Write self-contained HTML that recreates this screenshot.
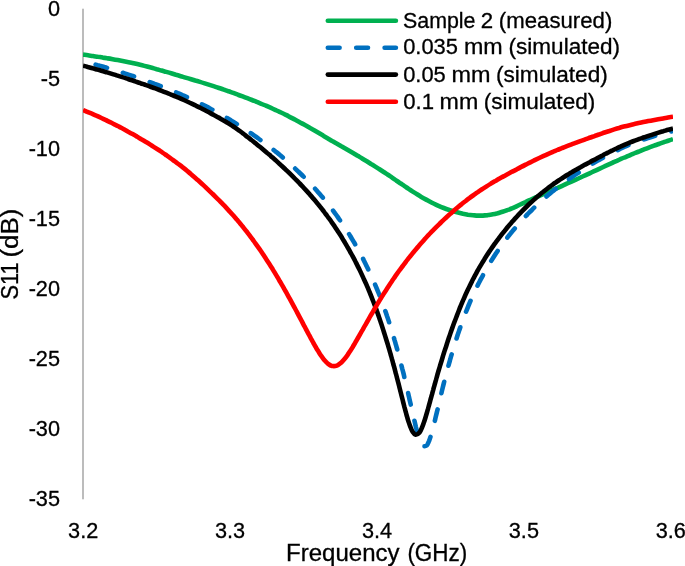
<!DOCTYPE html>
<html lang="en"><head><meta charset="utf-8"><title>S11 vs Frequency</title>
<style>html,body{margin:0;padding:0;background:#fff}svg{display:block}</style></head>
<body>
<svg width="685" height="566" viewBox="0 0 685 566">
<rect width="685" height="566" fill="#fff"/>
<rect x="82" y="8.7" width="2" height="490.6" fill="#bcbcbc"/>
<defs><clipPath id="cp"><rect x="83" y="0" width="590" height="520"/></clipPath></defs>
<g clip-path="url(#cp)" fill="none" stroke-width="4.6" stroke-linejoin="round" stroke-linecap="butt">
<path d="M83.0,54.6 C83.8,54.7 86.3,55.1 88.0,55.3 C89.6,55.5 91.3,55.8 92.9,56.0 C94.6,56.3 96.2,56.5 97.9,56.8 C99.5,57.0 101.2,57.3 102.8,57.6 C104.5,57.8 106.1,58.1 107.8,58.4 C109.4,58.6 111.1,58.9 112.7,59.2 C114.4,59.5 116.0,59.8 117.7,60.1 C119.3,60.4 120.9,60.7 122.6,61.0 C124.2,61.3 125.9,61.6 127.5,61.9 C129.1,62.2 130.8,62.6 132.4,62.9 C134.0,63.3 135.7,63.7 137.3,64.1 C138.9,64.5 140.5,64.9 142.2,65.3 C143.8,65.7 145.4,66.1 147.0,66.5 C148.6,67.0 150.2,67.4 151.8,67.8 C153.5,68.3 155.1,68.7 156.7,69.2 C158.3,69.6 159.9,70.1 161.5,70.5 C163.1,71.0 164.7,71.4 166.3,71.9 C167.9,72.4 169.5,72.9 171.1,73.3 C172.7,73.8 174.3,74.3 175.9,74.8 C177.5,75.2 179.1,75.7 180.7,76.2 C182.3,76.7 183.9,77.1 185.5,77.6 C187.1,78.1 188.7,78.6 190.3,79.0 C191.9,79.5 193.6,80.0 195.2,80.5 C196.8,80.9 198.4,81.4 200.0,81.9 C201.5,82.4 203.1,82.9 204.7,83.4 C206.3,83.9 207.9,84.4 209.5,84.9 C211.1,85.4 212.7,85.9 214.3,86.4 C215.9,86.9 217.5,87.5 219.0,88.0 C220.6,88.5 222.2,89.1 223.8,89.6 C225.4,90.2 227.0,90.7 228.5,91.3 C230.1,91.8 231.7,92.4 233.3,92.9 C234.8,93.5 236.4,94.1 238.0,94.7 C239.5,95.2 241.1,95.8 242.7,96.4 C244.2,97.0 245.8,97.6 247.3,98.2 C248.9,98.8 250.4,99.4 252.0,100.0 C253.6,100.6 255.1,101.3 256.7,101.9 C258.2,102.5 259.7,103.2 261.3,103.8 C262.8,104.4 264.4,105.1 265.9,105.7 C267.4,106.4 269.0,107.1 270.5,107.7 C272.0,108.4 273.6,109.1 275.1,109.8 C276.6,110.5 278.1,111.1 279.6,111.9 C281.2,112.6 282.7,113.3 284.2,114.0 C285.7,114.8 287.2,115.5 288.6,116.3 C290.1,117.0 291.6,117.8 293.1,118.6 C294.6,119.4 296.0,120.2 297.5,121.0 C299.0,121.8 300.4,122.6 301.9,123.4 C303.4,124.2 304.8,125.0 306.3,125.8 C307.7,126.6 309.2,127.5 310.6,128.3 C312.1,129.1 313.5,129.9 315.0,130.8 C316.4,131.6 317.9,132.5 319.3,133.3 C320.7,134.2 322.2,135.0 323.6,135.9 C325.0,136.7 326.5,137.6 327.9,138.4 C329.4,139.3 330.8,140.2 332.2,141.0 C333.7,141.8 335.1,142.7 336.6,143.5 C338.0,144.3 339.5,145.2 340.9,146.0 C342.4,146.8 343.8,147.7 345.3,148.5 C346.7,149.3 348.2,150.2 349.6,151.0 C351.0,151.8 352.5,152.7 353.9,153.5 C355.4,154.4 356.8,155.3 358.2,156.1 C359.7,157.0 361.1,157.8 362.5,158.7 C363.9,159.6 365.4,160.5 366.8,161.3 C368.2,162.2 369.6,163.1 371.0,164.0 C372.5,164.8 373.9,165.7 375.3,166.6 C376.7,167.5 378.1,168.4 379.5,169.3 C380.9,170.2 382.3,171.1 383.7,172.0 C385.1,172.9 386.5,173.9 387.9,174.8 C389.3,175.7 390.7,176.7 392.1,177.6 C393.4,178.6 394.8,179.5 396.2,180.5 C397.6,181.4 398.9,182.3 400.3,183.3 C401.7,184.2 403.1,185.2 404.5,186.1 C405.9,187.0 407.2,188.0 408.6,188.9 C410.0,189.8 411.4,190.7 412.8,191.6 C414.2,192.5 415.6,193.4 417.1,194.3 C418.5,195.2 419.9,196.1 421.3,196.9 C422.8,197.8 424.2,198.6 425.7,199.4 C427.2,200.2 428.6,201.0 430.1,201.8 C431.6,202.6 433.1,203.3 434.6,204.0 C436.1,204.8 437.6,205.5 439.1,206.1 C440.7,206.8 442.2,207.4 443.8,208.0 C445.3,208.6 446.9,209.2 448.5,209.7 C450.1,210.3 451.7,210.7 453.3,211.2 C454.9,211.7 456.5,212.2 458.1,212.6 C459.7,213.0 461.3,213.4 463.0,213.8 C464.6,214.1 466.2,214.4 467.9,214.7 C469.5,214.9 471.2,215.1 472.9,215.3 C474.5,215.4 476.2,215.6 477.9,215.6 C479.5,215.7 481.2,215.6 482.9,215.6 C484.5,215.5 486.2,215.3 487.9,215.1 C489.5,214.8 491.2,214.6 492.8,214.3 C494.5,214.0 496.1,213.6 497.7,213.2 C499.3,212.7 500.9,212.3 502.5,211.8 C504.1,211.3 505.7,210.7 507.3,210.1 C508.8,209.6 510.4,209.0 511.9,208.3 C513.5,207.7 515.0,207.0 516.5,206.3 C518.0,205.6 519.5,204.9 521.1,204.2 C522.6,203.5 524.1,202.8 525.6,202.1 C527.1,201.3 528.6,200.6 530.1,200.0 C531.7,199.3 533.2,198.6 534.7,197.9 C536.2,197.2 537.8,196.6 539.3,195.9 C540.8,195.3 542.4,194.6 543.9,193.9 C545.4,193.3 547.0,192.6 548.5,191.9 C550.0,191.3 551.6,190.6 553.1,189.9 C554.6,189.2 556.1,188.5 557.7,187.9 C559.2,187.2 560.7,186.5 562.2,185.8 C563.8,185.1 565.3,184.4 566.8,183.7 C568.3,183.1 569.9,182.4 571.4,181.7 C572.9,181.0 574.4,180.3 575.9,179.6 C577.5,178.9 579.0,178.2 580.5,177.5 C582.0,176.8 583.5,176.1 585.1,175.4 C586.6,174.7 588.1,174.0 589.6,173.3 C591.1,172.6 592.6,171.9 594.1,171.2 C595.7,170.5 597.2,169.8 598.7,169.1 C600.2,168.4 601.7,167.7 603.2,167.0 C604.7,166.3 606.3,165.6 607.8,164.9 C609.3,164.2 610.8,163.5 612.3,162.8 C613.9,162.1 615.4,161.4 616.9,160.8 C618.4,160.1 620.0,159.4 621.5,158.7 C623.0,158.1 624.6,157.4 626.1,156.8 C627.6,156.1 629.2,155.5 630.7,154.8 C632.3,154.2 633.8,153.5 635.4,152.9 C636.9,152.3 638.5,151.7 640.0,151.1 C641.6,150.4 643.1,149.8 644.7,149.2 C646.3,148.6 647.8,148.0 649.4,147.4 C650.9,146.9 652.5,146.3 654.1,145.7 C655.6,145.1 657.2,144.6 658.8,144.0 C660.4,143.4 661.9,142.9 663.5,142.3 C665.1,141.8 666.7,141.2 668.2,140.7 C669.8,140.2 672.2,139.4 673.0,139.1" stroke="#00b050"/>
<path d="M83.0,61.4 C83.8,61.6 86.2,62.2 87.9,62.6 C89.5,63.0 91.1,63.5 92.7,63.9 C94.3,64.3 95.9,64.7 97.5,65.2 C99.2,65.6 100.8,66.1 102.4,66.5 C104.0,67.0 105.6,67.4 107.2,67.9 C108.8,68.4 110.4,68.9 112.0,69.3 C113.6,69.8 115.2,70.3 116.8,70.8 C118.4,71.3 119.9,71.8 121.5,72.3 C123.1,72.8 124.7,73.4 126.3,73.9 C127.9,74.4 129.5,74.9 131.0,75.5 C132.6,76.0 134.2,76.5 135.8,77.1 C137.4,77.6 138.9,78.2 140.5,78.7 C142.1,79.3 143.7,79.8 145.2,80.4 C146.8,81.0 148.4,81.5 149.9,82.1 C151.5,82.7 153.1,83.3 154.6,83.9 C156.2,84.4 157.7,85.0 159.3,85.6 C160.9,86.2 162.4,86.8 164.0,87.5 C165.5,88.1 167.1,88.7 168.6,89.3 C170.2,89.9 171.7,90.6 173.2,91.2 C174.8,91.9 176.3,92.5 177.9,93.2 C179.4,93.8 180.9,94.5 182.4,95.2 C184.0,95.8 185.5,96.5 187.0,97.2 C188.5,97.9 190.0,98.6 191.6,99.3 C193.1,100.0 194.6,100.7 196.1,101.5 C197.6,102.2 199.1,102.9 200.6,103.7 C202.1,104.4 203.6,105.2 205.0,105.9 C206.5,106.7 208.0,107.5 209.5,108.2 C211.0,109.0 212.4,109.8 213.9,110.6 C215.4,111.4 216.8,112.2 218.3,113.0 C219.7,113.8 221.2,114.7 222.6,115.5 C224.1,116.3 225.5,117.2 227.0,118.0 C228.4,118.9 229.8,119.7 231.3,120.6 C232.7,121.4 234.1,122.3 235.5,123.2 C236.9,124.1 238.3,125.0 239.8,125.9 C241.2,126.8 242.6,127.7 244.0,128.6 C245.4,129.5 246.7,130.4 248.1,131.4 C249.5,132.3 250.9,133.2 252.3,134.2 C253.6,135.1 255.0,136.1 256.4,137.0 C257.7,138.0 259.1,139.0 260.4,140.0 C261.8,140.9 263.1,141.9 264.5,142.9 C265.8,143.9 267.1,144.9 268.5,145.9 C269.8,147.0 271.1,148.0 272.4,149.0 C273.7,150.0 275.0,151.1 276.3,152.1 C277.6,153.2 278.9,154.3 280.2,155.3 C281.5,156.4 282.8,157.5 284.0,158.6 C285.3,159.6 286.5,160.7 287.8,161.8 C289.0,162.9 290.3,164.1 291.5,165.2 C292.8,166.3 294.0,167.4 295.2,168.6 C296.4,169.7 297.6,170.9 298.8,172.0 C300.0,173.2 301.2,174.3 302.4,175.5 C303.6,176.7 304.8,177.9 305.9,179.1 C307.1,180.3 308.3,181.5 309.4,182.7 C310.6,183.9 311.7,185.1 312.8,186.3 C314.0,187.6 315.1,188.8 316.2,190.0 C317.3,191.3 318.4,192.5 319.5,193.8 C320.6,195.1 321.7,196.3 322.8,197.6 C323.8,198.9 324.9,200.2 325.9,201.5 C327.0,202.8 328.0,204.1 329.1,205.4 C330.1,206.7 331.1,208.0 332.1,209.4 C333.1,210.7 334.1,212.0 335.1,213.4 C336.1,214.7 337.1,216.1 338.0,217.4 C339.0,218.8 339.9,220.2 340.9,221.5 C341.8,222.9 342.8,224.3 343.7,225.7 C344.6,227.1 345.5,228.5 346.4,229.9 C347.3,231.3 348.2,232.7 349.1,234.1 C350.0,235.5 350.8,237.0 351.7,238.4 C352.6,239.8 353.4,241.3 354.3,242.7 C355.1,244.1 355.9,245.6 356.7,247.0 C357.5,248.5 358.4,250.0 359.2,251.4 C359.9,252.9 360.7,254.4 361.5,255.8 C362.3,257.3 363.1,258.8 363.8,260.3 C364.6,261.8 365.3,263.3 366.0,264.8 C366.8,266.3 367.5,267.8 368.2,269.3 C368.9,270.8 369.6,272.3 370.3,273.8 C371.0,275.3 371.7,276.9 372.4,278.4 C373.1,279.9 373.8,281.4 374.4,283.0 C375.1,284.5 375.7,286.0 376.4,287.6 C377.0,289.1 377.6,290.7 378.3,292.2 C378.9,293.8 379.5,295.3 380.1,296.9 C380.7,298.4 381.3,300.0 381.9,301.5 C382.5,303.1 383.0,304.7 383.6,306.2 C384.2,307.8 384.7,309.4 385.3,311.0 C385.9,312.5 386.4,314.1 386.9,315.7 C387.5,317.3 388.0,318.8 388.5,320.4 C389.0,322.0 389.6,323.6 390.1,325.2 C390.6,326.8 391.1,328.4 391.6,330.0 C392.1,331.6 392.5,333.2 393.0,334.8 C393.5,336.4 394.0,338.0 394.4,339.6 C394.9,341.2 395.4,342.8 395.8,344.4 C396.3,346.0 396.7,347.6 397.2,349.2 C397.6,350.8 398.0,352.4 398.5,354.0 C398.9,355.6 399.3,357.3 399.8,358.9 C400.2,360.5 400.6,362.1 401.0,363.7 C401.4,365.3 401.8,366.9 402.2,368.6 C402.7,370.2 403.1,371.8 403.5,373.4 C403.9,375.0 404.2,376.7 404.6,378.3 C405.0,379.9 405.4,381.5 405.8,383.2 C406.2,384.8 406.6,386.4 406.9,388.0 C407.3,389.7 407.7,391.3 408.1,392.9 C408.4,394.5 408.8,396.2 409.2,397.8 C409.5,399.4 409.9,401.0 410.3,402.7 C410.7,404.3 411.0,405.9 411.4,407.6 C411.8,409.2 412.1,410.8 412.5,412.4 C412.9,414.1 413.2,415.7 413.6,417.3 C414.0,418.9 414.4,420.6 414.8,422.2 C415.1,423.8 415.5,425.4 415.9,427.1 C416.4,428.7 416.8,430.3 417.2,431.9 C417.7,433.5 418.1,435.1 418.6,436.7 C419.1,438.3 419.6,439.9 420.2,441.4 C420.9,443.0 421.5,445.1 422.6,445.8 C423.7,446.5 425.6,446.3 426.7,445.5 C427.7,444.7 428.3,442.6 429.0,441.1 C429.6,439.6 430.1,438.0 430.6,436.4 C431.1,434.8 431.6,433.2 432.0,431.6 C432.5,430.0 432.9,428.3 433.3,426.7 C433.7,425.1 434.2,423.5 434.6,421.9 C435.0,420.3 435.3,418.6 435.7,417.0 C436.1,415.4 436.5,413.8 436.9,412.1 C437.3,410.5 437.7,408.9 438.1,407.3 C438.4,405.6 438.8,404.0 439.2,402.4 C439.6,400.8 440.0,399.1 440.4,397.5 C440.8,395.9 441.1,394.3 441.5,392.7 C441.9,391.0 442.3,389.4 442.7,387.8 C443.1,386.2 443.5,384.6 443.9,382.9 C444.3,381.3 444.8,379.7 445.2,378.1 C445.6,376.5 446.0,374.9 446.4,373.2 C446.8,371.6 447.3,370.0 447.7,368.4 C448.1,366.8 448.6,365.2 449.0,363.6 C449.5,362.0 449.9,360.4 450.4,358.7 C450.8,357.1 451.3,355.5 451.8,353.9 C452.2,352.3 452.7,350.7 453.2,349.1 C453.7,347.5 454.2,345.9 454.7,344.4 C455.2,342.8 455.7,341.2 456.2,339.6 C456.7,338.0 457.2,336.4 457.7,334.8 C458.2,333.2 458.8,331.7 459.3,330.1 C459.9,328.5 460.4,326.9 461.0,325.3 C461.5,323.8 462.1,322.2 462.7,320.6 C463.2,319.1 463.8,317.5 464.4,316.0 C465.0,314.4 465.6,312.8 466.2,311.3 C466.9,309.7 467.5,308.2 468.1,306.6 C468.7,305.1 469.4,303.6 470.0,302.0 C470.7,300.5 471.4,299.0 472.0,297.4 C472.7,295.9 473.4,294.4 474.1,292.9 C474.8,291.4 475.5,289.8 476.2,288.3 C477.0,286.8 477.7,285.3 478.4,283.8 C479.2,282.4 479.9,280.9 480.7,279.4 C481.5,277.9 482.3,276.4 483.1,275.0 C483.9,273.5 484.7,272.0 485.5,270.6 C486.3,269.1 487.1,267.7 488.0,266.2 C488.8,264.8 489.7,263.4 490.6,262.0 C491.4,260.5 492.3,259.1 493.2,257.7 C494.1,256.3 495.0,254.9 495.9,253.5 C496.9,252.1 497.8,250.7 498.7,249.4 C499.7,248.0 500.7,246.6 501.6,245.3 C502.6,243.9 503.6,242.6 504.6,241.2 C505.6,239.9 506.6,238.6 507.6,237.2 C508.6,235.9 509.7,234.6 510.7,233.3 C511.8,232.0 512.8,230.7 513.9,229.4 C515.0,228.2 516.0,226.9 517.1,225.6 C518.2,224.4 519.3,223.1 520.4,221.9 C521.6,220.6 522.7,219.4 523.8,218.2 C525.0,217.0 526.1,215.7 527.3,214.5 C528.4,213.3 529.6,212.2 530.8,211.0 C532.0,209.8 533.1,208.6 534.3,207.5 C535.5,206.3 536.8,205.2 538.0,204.0 C539.2,202.9 540.4,201.8 541.7,200.7 C542.9,199.6 544.2,198.5 545.5,197.4 C546.7,196.3 548.0,195.2 549.3,194.1 C550.6,193.1 551.9,192.0 553.2,191.0 C554.5,189.9 555.8,188.9 557.1,187.9 C558.4,186.9 559.7,185.8 561.1,184.8 C562.4,183.8 563.8,182.9 565.1,181.9 C566.5,180.9 567.8,179.9 569.2,179.0 C570.5,178.0 571.9,177.1 573.3,176.1 C574.7,175.2 576.1,174.2 577.4,173.3 C578.8,172.4 580.2,171.5 581.6,170.6 C583.0,169.7 584.4,168.8 585.9,167.9 C587.3,167.0 588.7,166.1 590.1,165.2 C591.5,164.4 593.0,163.5 594.4,162.6 C595.8,161.8 597.3,160.9 598.7,160.1 C600.2,159.3 601.6,158.5 603.1,157.6 C604.5,156.8 606.0,156.0 607.5,155.2 C608.9,154.5 610.4,153.7 611.9,152.9 C613.4,152.2 614.9,151.4 616.4,150.7 C617.9,150.0 619.4,149.2 620.9,148.5 C622.4,147.8 623.9,147.2 625.5,146.5 C627.0,145.8 628.5,145.2 630.1,144.5 C631.6,143.9 633.2,143.3 634.7,142.7 C636.3,142.1 637.9,141.5 639.4,141.0 C641.0,140.4 642.6,139.8 644.1,139.3 C645.7,138.8 647.3,138.2 648.9,137.7 C650.5,137.2 652.1,136.7 653.7,136.2 C655.3,135.8 656.9,135.3 658.5,134.8 C660.1,134.4 661.7,133.9 663.3,133.5 C664.9,133.0 666.5,132.6 668.1,132.2 C669.8,131.8 672.2,131.2 673.0,131.0" stroke="#0070c0" stroke-dasharray="11.8 16.6" stroke-dashoffset="-13.05" stroke-linecap="round"/>
<path d="M83.0,65.7 C83.8,65.9 86.2,66.5 87.8,67.0 C89.5,67.4 91.1,67.8 92.7,68.3 C94.3,68.7 95.9,69.2 97.5,69.6 C99.1,70.1 100.7,70.5 102.3,71.0 C103.9,71.5 105.5,71.9 107.1,72.4 C108.7,72.9 110.3,73.4 111.9,73.9 C113.5,74.4 115.1,74.8 116.7,75.4 C118.3,75.9 119.9,76.4 121.5,76.9 C123.1,77.4 124.7,77.9 126.2,78.4 C127.8,78.9 129.4,79.5 131.0,80.0 C132.6,80.5 134.2,81.1 135.8,81.6 C137.3,82.1 138.9,82.6 140.5,83.2 C142.1,83.7 143.7,84.3 145.2,84.8 C146.8,85.4 148.4,85.9 150.0,86.5 C151.5,87.1 153.1,87.6 154.7,88.2 C156.2,88.8 157.8,89.4 159.4,90.0 C160.9,90.6 162.5,91.2 164.0,91.8 C165.6,92.4 167.1,93.0 168.7,93.6 C170.2,94.2 171.8,94.9 173.3,95.5 C174.9,96.1 176.4,96.8 177.9,97.4 C179.5,98.1 181.0,98.7 182.5,99.4 C184.1,100.1 185.6,100.8 187.1,101.5 C188.6,102.2 190.1,102.9 191.7,103.6 C193.2,104.3 194.7,105.0 196.2,105.8 C197.7,106.5 199.2,107.2 200.7,108.0 C202.1,108.7 203.6,109.5 205.1,110.3 C206.6,111.1 208.1,111.8 209.5,112.6 C211.0,113.4 212.5,114.2 213.9,115.0 C215.4,115.8 216.9,116.6 218.3,117.4 C219.8,118.2 221.2,119.1 222.7,119.9 C224.1,120.7 225.6,121.6 227.0,122.5 C228.4,123.3 229.8,124.2 231.2,125.1 C232.6,126.0 234.0,127.0 235.4,127.9 C236.8,128.9 238.1,129.8 239.5,130.8 C240.8,131.8 242.1,132.8 243.5,133.8 C244.8,134.8 246.1,135.9 247.4,136.9 C248.8,137.9 250.1,139.0 251.4,140.0 C252.7,141.0 254.0,142.1 255.3,143.1 C256.6,144.2 257.9,145.2 259.2,146.3 C260.5,147.3 261.8,148.4 263.1,149.5 C264.3,150.5 265.6,151.6 266.9,152.7 C268.2,153.7 269.4,154.8 270.7,155.9 C272.0,157.0 273.2,158.1 274.5,159.2 C275.7,160.3 277.0,161.5 278.2,162.6 C279.4,163.7 280.7,164.8 281.9,166.0 C283.1,167.1 284.3,168.2 285.5,169.4 C286.8,170.5 288.0,171.7 289.2,172.9 C290.3,174.0 291.5,175.2 292.7,176.4 C293.9,177.6 295.1,178.7 296.2,179.9 C297.4,181.1 298.6,182.3 299.7,183.5 C300.9,184.7 302.0,186.0 303.2,187.2 C304.3,188.4 305.4,189.6 306.6,190.9 C307.7,192.1 308.8,193.3 309.9,194.6 C311.0,195.8 312.1,197.1 313.2,198.4 C314.3,199.6 315.4,200.9 316.4,202.2 C317.5,203.5 318.5,204.8 319.6,206.1 C320.6,207.4 321.7,208.7 322.7,210.0 C323.7,211.3 324.7,212.7 325.7,214.0 C326.7,215.3 327.7,216.7 328.7,218.0 C329.7,219.4 330.7,220.7 331.6,222.1 C332.6,223.5 333.5,224.8 334.5,226.2 C335.4,227.6 336.3,229.0 337.3,230.4 C338.2,231.8 339.1,233.2 340.0,234.6 C340.9,236.0 341.8,237.4 342.6,238.8 C343.5,240.3 344.4,241.7 345.2,243.1 C346.1,244.6 346.9,246.0 347.7,247.5 C348.6,248.9 349.4,250.4 350.2,251.8 C351.0,253.3 351.8,254.7 352.6,256.2 C353.4,257.7 354.2,259.2 355.0,260.6 C355.7,262.1 356.5,263.6 357.2,265.1 C358.0,266.6 358.7,268.1 359.5,269.6 C360.2,271.1 360.9,272.6 361.6,274.1 C362.3,275.6 363.0,277.1 363.7,278.7 C364.4,280.2 365.1,281.7 365.8,283.2 C366.5,284.8 367.1,286.3 367.8,287.8 C368.4,289.4 369.1,290.9 369.7,292.4 C370.3,294.0 371.0,295.5 371.6,297.1 C372.2,298.6 372.8,300.2 373.4,301.8 C374.0,303.3 374.6,304.9 375.2,306.4 C375.8,308.0 376.4,309.6 376.9,311.1 C377.5,312.7 378.0,314.3 378.6,315.9 C379.1,317.4 379.7,319.0 380.2,320.6 C380.7,322.2 381.3,323.8 381.8,325.4 C382.3,326.9 382.8,328.5 383.3,330.1 C383.8,331.7 384.3,333.3 384.8,334.9 C385.3,336.5 385.8,338.1 386.3,339.7 C386.8,341.3 387.3,342.9 387.8,344.5 C388.2,346.1 388.7,347.7 389.2,349.3 C389.6,350.9 390.1,352.5 390.6,354.1 C391.0,355.7 391.5,357.3 391.9,358.9 C392.4,360.5 392.8,362.1 393.2,363.8 C393.7,365.4 394.1,367.0 394.6,368.6 C395.0,370.2 395.4,371.8 395.8,373.4 C396.3,375.0 396.7,376.7 397.1,378.3 C397.5,379.9 397.9,381.5 398.4,383.1 C398.8,384.7 399.2,386.4 399.6,388.0 C400.0,389.6 400.4,391.2 400.8,392.8 C401.2,394.5 401.6,396.1 402.1,397.7 C402.5,399.3 402.9,400.9 403.3,402.6 C403.7,404.2 404.1,405.8 404.5,407.4 C405.0,409.0 405.4,410.6 405.8,412.2 C406.3,413.9 406.7,415.5 407.2,417.1 C407.6,418.7 408.1,420.3 408.6,421.9 C409.1,423.5 409.7,425.0 410.3,426.6 C410.9,428.1 411.4,429.8 412.3,431.2 C413.2,432.5 414.4,434.6 415.6,434.8 C416.8,435.0 418.5,433.6 419.6,432.4 C420.6,431.3 421.2,429.5 421.8,428.0 C422.5,426.4 423.1,424.9 423.6,423.3 C424.2,421.7 424.7,420.1 425.2,418.5 C425.7,416.9 426.1,415.3 426.6,413.7 C427.1,412.1 427.5,410.5 428.0,408.9 C428.4,407.3 428.9,405.7 429.3,404.1 C429.8,402.5 430.2,400.9 430.6,399.2 C431.1,397.6 431.5,396.0 432.0,394.4 C432.4,392.8 432.8,391.2 433.3,389.6 C433.7,388.0 434.2,386.4 434.6,384.7 C435.1,383.1 435.5,381.5 436.0,379.9 C436.4,378.3 436.9,376.7 437.3,375.1 C437.8,373.5 438.2,371.9 438.7,370.3 C439.2,368.7 439.7,367.1 440.1,365.5 C440.6,363.9 441.1,362.3 441.6,360.7 C442.1,359.1 442.6,357.5 443.0,355.9 C443.5,354.3 444.0,352.7 444.5,351.1 C445.0,349.5 445.6,347.9 446.1,346.4 C446.6,344.8 447.1,343.2 447.6,341.6 C448.2,340.0 448.7,338.4 449.2,336.8 C449.8,335.3 450.3,333.7 450.8,332.1 C451.4,330.5 451.9,329.0 452.5,327.4 C453.1,325.8 453.6,324.2 454.2,322.7 C454.8,321.1 455.4,319.5 456.0,318.0 C456.6,316.4 457.2,314.9 457.8,313.3 C458.4,311.7 459.0,310.2 459.6,308.6 C460.2,307.1 460.9,305.6 461.5,304.0 C462.2,302.5 462.8,300.9 463.5,299.4 C464.2,297.9 464.8,296.3 465.5,294.8 C466.2,293.3 466.9,291.8 467.6,290.3 C468.3,288.8 469.0,287.3 469.8,285.8 C470.5,284.2 471.2,282.8 472.0,281.3 C472.8,279.8 473.5,278.3 474.3,276.8 C475.1,275.3 475.9,273.9 476.7,272.4 C477.5,270.9 478.3,269.5 479.1,268.0 C480.0,266.6 480.8,265.1 481.7,263.7 C482.5,262.3 483.4,260.8 484.3,259.4 C485.1,258.0 486.0,256.6 486.9,255.2 C487.8,253.8 488.8,252.4 489.7,251.0 C490.6,249.6 491.6,248.2 492.5,246.9 C493.5,245.5 494.4,244.1 495.4,242.8 C496.4,241.4 497.4,240.1 498.4,238.8 C499.4,237.4 500.4,236.1 501.4,234.8 C502.5,233.5 503.5,232.2 504.6,230.9 C505.6,229.6 506.7,228.3 507.7,227.0 C508.8,225.7 509.9,224.4 511.0,223.2 C512.1,221.9 513.2,220.7 514.3,219.4 C515.4,218.2 516.6,217.0 517.7,215.7 C518.8,214.5 520.0,213.3 521.1,212.1 C522.3,210.9 523.5,209.7 524.7,208.5 C525.8,207.4 527.0,206.2 528.2,205.0 C529.4,203.9 530.7,202.7 531.9,201.6 C533.1,200.5 534.4,199.3 535.6,198.2 C536.9,197.1 538.1,196.1 539.4,195.0 C540.7,193.9 542.0,192.8 543.3,191.8 C544.6,190.7 545.9,189.7 547.2,188.7 C548.5,187.7 549.9,186.7 551.2,185.7 C552.6,184.7 553.9,183.7 555.3,182.8 C556.7,181.8 558.0,180.9 559.4,180.0 C560.8,179.0 562.2,178.1 563.6,177.2 C565.0,176.3 566.4,175.4 567.9,174.6 C569.3,173.7 570.7,172.8 572.2,172.0 C573.6,171.1 575.0,170.3 576.5,169.5 C577.9,168.6 579.4,167.8 580.9,167.0 C582.3,166.2 583.8,165.4 585.2,164.6 C586.7,163.8 588.2,163.0 589.7,162.2 C591.1,161.4 592.6,160.6 594.1,159.9 C595.6,159.1 597.0,158.3 598.5,157.5 C600.0,156.8 601.5,156.0 603.0,155.2 C604.4,154.4 605.9,153.7 607.4,152.9 C608.9,152.2 610.4,151.4 611.9,150.7 C613.4,149.9 614.9,149.2 616.4,148.5 C617.9,147.7 619.4,147.0 620.9,146.4 C622.4,145.7 624.0,145.0 625.5,144.3 C627.1,143.7 628.6,143.1 630.2,142.4 C631.7,141.8 633.3,141.2 634.8,140.6 C636.4,140.1 638.0,139.5 639.5,138.9 C641.1,138.4 642.7,137.8 644.3,137.3 C645.8,136.7 647.4,136.2 649.0,135.7 C650.6,135.1 652.2,134.6 653.8,134.1 C655.4,133.6 656.9,133.1 658.5,132.6 C660.1,132.1 661.7,131.6 663.3,131.2 C665.0,130.7 666.6,130.3 668.2,129.8 C669.8,129.4 672.2,128.7 673.0,128.5" stroke="#000"/>
<path d="M83.0,110.0 C83.8,110.4 86.1,111.3 87.6,112.0 C89.2,112.6 90.7,113.3 92.3,113.9 C93.8,114.6 95.3,115.3 96.9,115.9 C98.4,116.6 99.9,117.3 101.4,118.0 C102.9,118.7 104.5,119.4 106.0,120.1 C107.5,120.9 109.0,121.6 110.5,122.3 C112.0,123.1 113.5,123.8 115.0,124.6 C116.5,125.3 117.9,126.1 119.4,126.9 C120.9,127.7 122.4,128.4 123.9,129.2 C125.3,130.0 126.8,130.9 128.2,131.7 C129.7,132.5 131.2,133.3 132.6,134.1 C134.1,135.0 135.5,135.8 137.0,136.6 C138.4,137.5 139.9,138.3 141.3,139.2 C142.7,140.0 144.2,140.9 145.6,141.8 C147.0,142.6 148.5,143.5 149.9,144.4 C151.3,145.3 152.7,146.2 154.1,147.1 C155.5,148.0 156.9,148.9 158.3,149.8 C159.7,150.7 161.1,151.7 162.5,152.6 C163.9,153.5 165.3,154.5 166.6,155.4 C168.0,156.4 169.4,157.4 170.7,158.3 C172.1,159.3 173.4,160.3 174.8,161.3 C176.1,162.3 177.5,163.3 178.8,164.3 C180.1,165.3 181.5,166.3 182.8,167.4 C184.1,168.4 185.4,169.4 186.7,170.5 C188.0,171.6 189.3,172.6 190.5,173.7 C191.8,174.8 193.1,175.9 194.3,177.0 C195.6,178.1 196.8,179.2 198.1,180.3 C199.3,181.4 200.6,182.6 201.8,183.7 C203.0,184.8 204.3,186.0 205.5,187.1 C206.7,188.3 207.9,189.4 209.1,190.6 C210.3,191.7 211.5,192.9 212.7,194.0 C213.9,195.2 215.1,196.4 216.3,197.6 C217.5,198.8 218.7,199.9 219.9,201.1 C221.0,202.3 222.2,203.5 223.3,204.7 C224.5,205.9 225.7,207.2 226.8,208.4 C227.9,209.6 229.1,210.8 230.2,212.1 C231.3,213.3 232.4,214.5 233.6,215.8 C234.7,217.1 235.8,218.3 236.8,219.6 C237.9,220.9 239.0,222.1 240.1,223.4 C241.2,224.7 242.2,226.0 243.3,227.3 C244.3,228.6 245.3,229.9 246.4,231.2 C247.4,232.6 248.4,233.9 249.4,235.2 C250.4,236.6 251.4,237.9 252.4,239.2 C253.4,240.6 254.4,241.9 255.4,243.3 C256.4,244.7 257.3,246.0 258.3,247.4 C259.3,248.8 260.2,250.1 261.2,251.5 C262.1,252.9 263.0,254.3 264.0,255.7 C264.9,257.1 265.8,258.5 266.7,259.9 C267.6,261.3 268.5,262.7 269.4,264.1 C270.3,265.5 271.2,266.9 272.1,268.3 C273.0,269.8 273.8,271.2 274.7,272.6 C275.6,274.1 276.4,275.5 277.3,276.9 C278.2,278.4 279.0,279.8 279.8,281.3 C280.7,282.7 281.5,284.1 282.4,285.6 C283.2,287.0 284.0,288.5 284.8,290.0 C285.7,291.4 286.5,292.9 287.3,294.3 C288.1,295.8 288.9,297.3 289.7,298.7 C290.5,300.2 291.3,301.7 292.1,303.1 C292.9,304.6 293.7,306.1 294.5,307.5 C295.3,309.0 296.1,310.5 296.9,312.0 C297.7,313.4 298.4,314.9 299.2,316.4 C300.0,317.9 300.8,319.4 301.6,320.8 C302.3,322.3 303.1,323.8 303.9,325.3 C304.7,326.8 305.5,328.2 306.2,329.7 C307.0,331.2 307.8,332.7 308.6,334.2 C309.4,335.6 310.2,337.1 311.0,338.6 C311.8,340.0 312.6,341.5 313.4,343.0 C314.2,344.4 315.0,345.9 315.9,347.3 C316.7,348.8 317.6,350.2 318.5,351.6 C319.3,353.1 320.2,354.5 321.2,355.8 C322.1,357.2 323.1,358.6 324.2,359.9 C325.3,361.1 326.4,362.5 327.7,363.5 C329.0,364.5 330.4,365.6 332.0,365.9 C333.5,366.3 335.4,366.1 336.9,365.6 C338.4,365.1 339.8,363.9 341.1,362.8 C342.3,361.7 343.4,360.4 344.5,359.1 C345.5,357.9 346.5,356.5 347.5,355.1 C348.4,353.8 349.3,352.3 350.2,350.9 C351.1,349.5 352.0,348.1 352.9,346.7 C353.7,345.2 354.6,343.8 355.4,342.3 C356.3,340.9 357.1,339.4 357.9,338.0 C358.8,336.5 359.6,335.1 360.4,333.6 C361.2,332.2 362.1,330.7 362.9,329.3 C363.7,327.8 364.5,326.4 365.4,324.9 C366.2,323.5 367.0,322.0 367.9,320.5 C368.7,319.1 369.5,317.6 370.3,316.2 C371.2,314.7 372.0,313.3 372.9,311.8 C373.7,310.4 374.5,309.0 375.4,307.5 C376.2,306.1 377.1,304.6 377.9,303.2 C378.8,301.8 379.7,300.3 380.5,298.9 C381.4,297.5 382.3,296.1 383.2,294.6 C384.1,293.2 385.0,291.8 385.9,290.4 C386.8,289.0 387.7,287.6 388.6,286.2 C389.5,284.8 390.4,283.4 391.4,282.0 C392.3,280.6 393.2,279.2 394.2,277.9 C395.1,276.5 396.1,275.1 397.1,273.7 C398.0,272.4 399.0,271.0 400.0,269.7 C401.0,268.3 402.0,267.0 403.0,265.6 C404.0,264.3 405.0,263.0 406.0,261.6 C407.0,260.3 408.1,259.0 409.1,257.7 C410.1,256.4 411.2,255.1 412.2,253.8 C413.3,252.5 414.4,251.2 415.4,249.9 C416.5,248.6 417.6,247.3 418.7,246.1 C419.8,244.8 420.9,243.5 422.0,242.3 C423.1,241.0 424.2,239.8 425.3,238.5 C426.4,237.3 427.6,236.1 428.7,234.8 C429.9,233.6 431.0,232.4 432.2,231.2 C433.3,230.0 434.5,228.8 435.7,227.6 C436.9,226.4 438.1,225.3 439.3,224.1 C440.4,222.9 441.7,221.8 442.9,220.6 C444.1,219.5 445.3,218.3 446.5,217.2 C447.8,216.0 449.0,214.9 450.3,213.8 C451.5,212.7 452.8,211.6 454.0,210.5 C455.3,209.4 456.6,208.3 457.8,207.3 C459.1,206.2 460.4,205.1 461.7,204.1 C463.0,203.0 464.3,202.0 465.7,201.0 C467.0,199.9 468.3,198.9 469.7,197.9 C471.0,196.9 472.4,195.9 473.7,195.0 C475.1,194.0 476.4,193.0 477.8,192.1 C479.2,191.1 480.6,190.2 482.0,189.3 C483.4,188.4 484.8,187.5 486.2,186.6 C487.6,185.7 489.0,184.8 490.5,183.9 C491.9,183.0 493.3,182.2 494.8,181.3 C496.2,180.5 497.7,179.7 499.1,178.8 C500.6,178.0 502.0,177.2 503.5,176.4 C505.0,175.6 506.4,174.8 507.9,174.0 C509.4,173.2 510.9,172.4 512.3,171.6 C513.8,170.8 515.3,170.0 516.8,169.3 C518.2,168.5 519.7,167.7 521.2,166.9 C522.7,166.2 524.2,165.4 525.7,164.6 C527.2,163.9 528.7,163.1 530.2,162.4 C531.6,161.6 533.1,160.9 534.7,160.1 C536.2,159.4 537.7,158.7 539.2,158.0 C540.7,157.3 542.2,156.6 543.7,155.9 C545.3,155.2 546.8,154.5 548.3,153.8 C549.8,153.2 551.4,152.5 552.9,151.8 C554.5,151.2 556.0,150.5 557.6,149.9 C559.1,149.3 560.7,148.7 562.2,148.0 C563.8,147.4 565.3,146.8 566.9,146.2 C568.4,145.6 570.0,145.0 571.6,144.4 C573.1,143.8 574.7,143.3 576.3,142.7 C577.8,142.1 579.4,141.5 581.0,140.9 C582.6,140.4 584.1,139.8 585.7,139.2 C587.3,138.6 588.8,138.1 590.4,137.5 C592.0,136.9 593.6,136.4 595.1,135.8 C596.7,135.3 598.3,134.7 599.9,134.2 C601.5,133.6 603.0,133.1 604.6,132.5 C606.2,132.0 607.8,131.5 609.4,131.0 C611.0,130.4 612.6,129.9 614.2,129.4 C615.8,128.9 617.4,128.4 619.0,128.0 C620.6,127.5 622.2,127.0 623.8,126.6 C625.4,126.2 627.0,125.8 628.7,125.4 C630.3,125.0 631.9,124.6 633.6,124.2 C635.2,123.9 636.8,123.5 638.5,123.1 C640.1,122.8 641.7,122.5 643.4,122.1 C645.0,121.8 646.6,121.5 648.3,121.1 C649.9,120.8 651.6,120.5 653.2,120.2 C654.9,119.9 656.5,119.6 658.2,119.3 C659.8,119.0 661.4,118.7 663.1,118.4 C664.7,118.1 666.4,117.9 668.0,117.6 C669.7,117.3 672.2,116.9 673.0,116.8" stroke="#ff0000"/>
</g>
<g fill="none" stroke-width="4.6" stroke-linecap="round">
<line x1="327.8" y1="20.8" x2="395.9" y2="20.8" stroke="#00b050"/>
<line x1="327.8" y1="47.7" x2="395.9" y2="47.7" stroke="#0070c0" stroke-dasharray="11.8 16.6"/>
<line x1="327.8" y1="74.6" x2="395.9" y2="74.6" stroke="#000"/>
<line x1="327.8" y1="101.7" x2="395.9" y2="101.7" stroke="#ff0000"/>
</g>
<g font-family="Liberation Sans, Arial, sans-serif" font-size="21.4" fill="#000" stroke="#000" stroke-width="0.3">
<text x="402.98" y="27.7" textLength="72.54" lengthAdjust="spacingAndGlyphs">Sample</text>
<text x="480.86" y="27.7" textLength="12.38" lengthAdjust="spacingAndGlyphs">2</text>
<text x="498.89" y="27.7" textLength="113.44" lengthAdjust="spacingAndGlyphs">(measured)</text>
<text x="403.18" y="54.4" textLength="54.80" lengthAdjust="spacingAndGlyphs">0.035</text>
<text x="463.91" y="54.4" textLength="38.78" lengthAdjust="spacingAndGlyphs">mm</text>
<text x="508.57" y="54.4" textLength="111.49" lengthAdjust="spacingAndGlyphs">(simulated)</text>
<text x="403.18" y="81.5" textLength="42.61" lengthAdjust="spacingAndGlyphs">0.05</text>
<text x="451.60" y="81.5" textLength="39.00" lengthAdjust="spacingAndGlyphs">mm</text>
<text x="495.96" y="81.5" textLength="111.80" lengthAdjust="spacingAndGlyphs">(simulated)</text>
<text x="403.16" y="108.5" textLength="30.83" lengthAdjust="spacingAndGlyphs">0.1</text>
<text x="439.61" y="108.5" textLength="38.67" lengthAdjust="spacingAndGlyphs">mm</text>
<text x="483.66" y="108.5" textLength="111.59" lengthAdjust="spacingAndGlyphs">(simulated)</text>
</g>
<g font-family="Liberation Sans, Arial, sans-serif" font-size="21.7" fill="#000" text-anchor="end" stroke="#000" stroke-width="0.3">
<text x="60.0" y="15.5">0</text>
<text x="60.0" y="85.5">-5</text>
<text x="60.0" y="155.5">-10</text>
<text x="60.0" y="225.5">-15</text>
<text x="60.0" y="295.5">-20</text>
<text x="60.0" y="365.5">-25</text>
<text x="60.0" y="435.5">-30</text>
<text x="60.0" y="505.5">-35</text>
</g>
<g font-family="Liberation Sans, Arial, sans-serif" font-size="21.7" fill="#000" text-anchor="middle" stroke="#000" stroke-width="0.3">
<text x="83.2" y="537.5">3.2</text>
<text x="230.1" y="537.5">3.3</text>
<text x="377.0" y="537.5">3.4</text>
<text x="523.9" y="537.5">3.5</text>
<text x="670.8" y="537.5">3.6</text>
</g>
<g font-family="Liberation Sans, Arial, sans-serif" font-size="23.3" fill="#000" stroke="#000" stroke-width="0.3">
<text x="286.04" y="561" textLength="113.55" lengthAdjust="spacingAndGlyphs">Frequency</text>
<text x="407.39" y="561" textLength="59.85" lengthAdjust="spacingAndGlyphs">(GHz)</text>
<g transform="translate(18.0,300) rotate(-90)">
<text x="0.38" y="0" textLength="37.12" lengthAdjust="spacingAndGlyphs">S11</text>
<text x="42.47" y="0" textLength="48.88" lengthAdjust="spacingAndGlyphs">(dB)</text>
</g>
</g>
</svg>
</body></html>
